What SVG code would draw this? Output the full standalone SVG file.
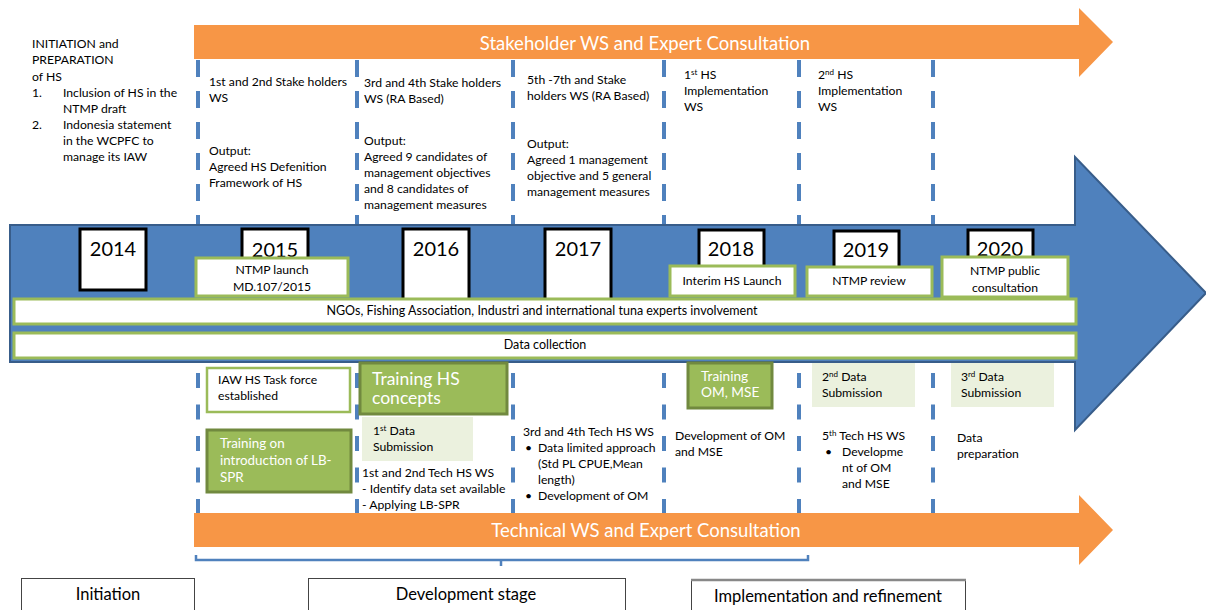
<svg xmlns="http://www.w3.org/2000/svg" width="1206" height="610" viewBox="0 0 1206 610">
<defs>
<style>
text{font-family:Lato,"Liberation Sans",sans-serif;fill:#000;font-size:12.2px}
.ws{fill:#fff;font-size:18.5px;text-anchor:middle}
.yr rect{fill:#fff;stroke:#000;stroke-width:3}
.yr text{font-size:20px;text-anchor:middle}
.gb{fill:#fff;stroke:#9BBB59;stroke-width:3}
.mid{text-anchor:middle}
.bar{font-size:12.5px}
.dash{stroke:#4F81BD;stroke-width:4;stroke-dasharray:17 14;fill:none}
.dash2{stroke:#4F81BD;stroke-width:4;stroke-dasharray:15 16.5;fill:none}
.tr{fill:#9BBB59;stroke:#71893F;stroke-width:3}
.wt{fill:#fff}
.w13{fill:#fff;font-size:13.4px}
.w14{fill:#fff;font-size:13.7px}
.w17{fill:#fff;font-size:17.5px}
.sup{font-size:8px}
.lt{fill:#EBF1DE}
.bb{fill:#fff;stroke:#444;stroke-width:1}
.stage{font-size:16.5px;text-anchor:middle}
</style>
</defs>
<rect width="1206" height="610" fill="#fff"/>

<g id="connectors">
  <path class="dash" d="M198,60V225M357,60V225M513,60V225M664,60V225M799,60V225M933,60V225"/>
  <path class="dash2" d="M198,373V513M357,373V513M513,373V513M664,373V513M799,373V513M933,373V513"/>
  <path d="M196,555V560H808V555M501,560V566" fill="none" stroke="#4F81BD" stroke-width="2.5"/>
</g>

<g id="stakeholder-arrow">
  <polygon points="194,25 1079,25 1079,8 1113,42 1079,77 1079,59 194,59" fill="#F79646"/>
  <text class="ws" x="645" y="50">Stakeholder WS and Expert Consultation</text>
</g>

<g id="timeline-arrow">
  <polygon points="10,225 1075,225 1075,157 1206,293 1075,430 1075,362 10,362" fill="#4F81BD" stroke="#385D8A" stroke-width="2"/>
</g>

<g id="technical-arrow">
  <polygon points="194,513 1079,513 1079,495 1113,530 1079,565 1079,547 194,547" fill="#F79646"/>
  <text class="ws" x="646" y="537">Technical WS and Expert Consultation</text>
</g>

<g id="initiation-text">
  <text x="32" y="48">INITIATION and</text>
  <text x="32" y="64">PREPARATION</text>
  <text x="32" y="81">of HS</text>
  <text x="32" y="97">1.</text>
  <text x="63" y="97">Inclusion of HS in the</text>
  <text x="63" y="113">NTMP draft</text>
  <text x="32" y="129">2.</text>
  <text x="63" y="129">Indonesia statement</text>
  <text x="63" y="145">in the WCPFC to</text>
  <text x="63" y="161">manage its IAW</text>
</g>

<g id="ws-1-2">
  <text x="209" y="86">1st and 2nd Stake holders</text>
  <text x="209" y="102">WS</text>
  <text x="209" y="155">Output:</text>
  <text x="209" y="171">Agreed HS Defenition</text>
  <text x="209" y="187">Framework of HS</text>
</g>
<g id="ws-3-4">
  <text x="364" y="87">3rd and 4th Stake holders</text>
  <text x="364" y="103">WS (RA Based)</text>
  <text x="364" y="145">Output:</text>
  <text x="364" y="161">Agreed 9 candidates of</text>
  <text x="364" y="177">management objectives</text>
  <text x="364" y="193">and 8 candidates of</text>
  <text x="364" y="209">management measures</text>
</g>
<g id="ws-5-7">
  <text x="527" y="84">5th -7th and Stake</text>
  <text x="527" y="100">holders WS (RA Based)</text>
  <text x="527" y="148">Output:</text>
  <text x="527" y="164">Agreed 1 management</text>
  <text x="527" y="180">objective and 5 general</text>
  <text x="527" y="196">management measures</text>
</g>
<g id="hs-impl-1">
  <text x="684" y="79">1<tspan class="sup" dy="-4">st</tspan><tspan dy="4"> HS</tspan></text>
  <text x="684" y="95">Implementation</text>
  <text x="684" y="111">WS</text>
</g>
<g id="hs-impl-2">
  <text x="818" y="79">2<tspan class="sup" dy="-4">nd</tspan><tspan dy="4"> HS</tspan></text>
  <text x="818" y="95">Implementation</text>
  <text x="818" y="111">WS</text>
</g>

<g id="year-2014" class="yr"><rect x="80" y="229" width="66" height="61"/><text x="113" y="256">2014</text></g>
<g id="year-2015" class="yr"><rect x="242" y="229" width="66" height="40"/><text x="275" y="257">2015</text></g>
<g id="year-2016" class="yr"><rect x="403" y="229" width="66" height="71"/><text x="436" y="256">2016</text></g>
<g id="year-2017" class="yr"><rect x="545" y="229" width="66" height="71"/><text x="578" y="256">2017</text></g>
<g id="year-2018" class="yr"><rect x="699" y="230" width="65" height="40"/><text x="731" y="256">2018</text></g>
<g id="year-2019" class="yr"><rect x="834" y="231" width="65" height="40"/><text x="866" y="257">2019</text></g>
<g id="year-2020" class="yr"><rect x="968" y="230" width="65" height="30"/><text x="1000" y="256">2020</text></g>

<g id="ntmp-launch"><rect class="gb" x="196" y="258" width="152" height="38"/>
  <text class="mid" x="272" y="274">NTMP launch</text><text class="mid" x="272" y="291">MD.107/2015</text></g>
<g id="interim-hs"><rect class="gb" x="670" y="266" width="125" height="30"/>
  <text class="mid" x="732" y="285">Interim HS Launch</text></g>
<g id="ntmp-review"><rect class="gb" x="807" y="267" width="125" height="29"/>
  <text class="mid" x="869" y="285">NTMP review</text></g>
<g id="ntmp-public"><rect class="gb" x="942" y="257" width="126" height="40"/>
  <text class="mid" x="1005" y="275">NTMP public</text><text class="mid" x="1005" y="292">consultation</text></g>

<g id="ngos"><rect class="gb" x="14" y="299" width="1062" height="25"/>
  <text class="mid bar" x="542" y="315">NGOs, Fishing Association, Industri and international tuna experts involvement</text></g>
<g id="data-collection"><rect class="gb" x="14" y="333" width="1062" height="25"/>
  <text class="mid bar" x="545" y="349">Data collection</text></g>

<g id="iaw-taskforce"><rect x="207" y="368" width="143" height="44" fill="#fff" stroke="#9BBB59" stroke-width="2.5"/>
  <text x="218" y="384">IAW HS Task force</text><text x="218" y="400">established</text></g>
<g id="training-lbspr"><rect class="tr" x="207" y="430" width="144" height="62"/>
  <text class="w13" x="220" y="448">Training on</text>
  <text class="w13" x="220" y="465">introduction of  LB-</text>
  <text class="w13" x="220" y="482">SPR</text></g>
<g id="training-hs"><rect class="tr" x="360" y="363" width="147" height="51"/>
  <text class="w17" x="372" y="385">Training HS</text>
  <text class="w17" x="372" y="404">concepts</text></g>
<g id="data-sub-1"><rect class="lt" x="362" y="417" width="111" height="44"/>
  <text x="373" y="435">1<tspan class="sup" dy="-4">st</tspan><tspan dy="4">  Data</tspan></text>
  <text x="373" y="451">Submission</text></g>
<g id="tech-ws-1-2">
  <text x="362" y="477">1st and 2nd Tech HS WS</text>
  <text x="362" y="493">- Identify data set available</text>
  <text x="362" y="509">- Applying LB-SPR</text></g>
<g id="tech-ws-3-4">
  <text x="523" y="436">3rd and 4th Tech HS WS</text>
  <text x="525" y="452">•</text><text x="538" y="452">Data limited approach</text>
  <text x="538" y="468">(Std PL CPUE,Mean</text>
  <text x="538" y="484">length)</text>
  <text x="525" y="500">•</text><text x="538" y="500">Development of OM</text></g>
<g id="training-om"><rect class="tr" x="688" y="363" width="84" height="45"/>
  <text class="w14" x="701" y="381">Training</text>
  <text class="w14" x="701" y="397">OM, MSE</text></g>
<g id="dev-om"><text x="675" y="440">Development of OM</text><text x="675" y="456">and MSE</text></g>
<g id="data-sub-2"><rect class="lt" x="812" y="363" width="103" height="44"/>
  <text x="822" y="381">2<tspan class="sup" dy="-4">nd</tspan><tspan dy="4"> Data</tspan></text>
  <text x="822" y="397">Submission</text></g>
<g id="tech-ws-5">
  <text x="822" y="440">5<tspan class="sup" dy="-4">th</tspan><tspan dy="4"> Tech HS WS</tspan></text>
  <text x="825" y="456">•</text><text x="842" y="456">Developme</text>
  <text x="842" y="472">nt of OM</text>
  <text x="842" y="488">and MSE</text></g>
<g id="data-sub-3"><rect class="lt" x="951" y="363" width="103" height="44"/>
  <text x="961" y="381">3<tspan class="sup" dy="-4">rd</tspan><tspan dy="4"> Data</tspan></text>
  <text x="961" y="397">Submission</text></g>
<g id="data-prep"><text x="957" y="442">Data</text><text x="957" y="458">preparation</text></g>

<g id="stage-initiation"><rect class="bb" x="21.5" y="578.5" width="173" height="40"/>
  <text class="stage" x="108" y="600">Initiation</text></g>
<g id="stage-development"><rect class="bb" x="308.5" y="578.5" width="317" height="40"/>
  <text class="stage" x="466" y="600">Development stage</text></g>
<g id="stage-implementation"><rect class="bb" x="691.5" y="579.5" width="274" height="40"/>
  <line x1="691" y1="580" x2="966" y2="580" stroke="#888" stroke-width="2.5"/>
  <text class="stage" x="828" y="602">Implementation and refinement</text></g>
</svg>
